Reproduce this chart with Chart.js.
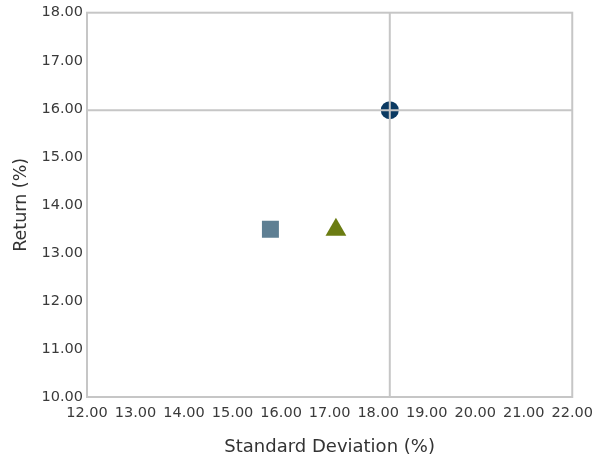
<!DOCTYPE html>
<html>
<head>
<meta charset="utf-8">
<script src="https://cdn.jsdelivr.net/npm/chart.js@4/dist/chart.umd.min.js"></script>
<style>
html,body{margin:0;padding:0;background:#fff;}
#wrap{width:601px;height:463px;position:relative;}
</style>
</head>
<body>
<div id="wrap"><canvas id="c" width="601" height="463"></canvas></div>
<script>
// Data
const seriesNames = ["Fund", "Index A", "Index B"];
const stdDev = [18.24, 15.78, 17.13];
const returns = [15.97, 13.49, 13.48];
const pointStyles = ["circle", "rect", "triangle"];
const pointColors = ["#0b3a62", "#5e7f93", "#6b7c12"];
const pointSizes = [9, 12, 12];
const xRange = [12, 22];
const yRange = [10, 18];
const crossIndex = 0;

const datasets = seriesNames.map((n, i) => ({
  label: n,
  data: [{x: stdDev[i], y: returns[i]}],
  pointStyle: pointStyles[i],
  backgroundColor: pointColors[i],
  borderColor: pointColors[i],
  borderWidth: 0,
  pointRadius: pointSizes[i],
  pointHoverRadius: pointSizes[i]
}));

const gridColor = "#c6c6c6";
const framePlugin = {
  id: "frame",
  afterDatasetsDraw(chart) {
    const {ctx, chartArea: a, scales} = chart;
    const px = scales.x.getPixelForValue(stdDev[crossIndex]);
    const py = scales.y.getPixelForValue(returns[crossIndex]);
    ctx.save();
    ctx.strokeStyle = gridColor;
    ctx.lineWidth = 2;
    ctx.beginPath();
    ctx.moveTo(px, a.top); ctx.lineTo(px, a.bottom);
    ctx.moveTo(a.left, py); ctx.lineTo(a.right, py);
    ctx.stroke();
    ctx.strokeRect(a.left, a.top, a.right - a.left, a.bottom - a.top);
    ctx.restore();
  }
};

new Chart(document.getElementById("c"), {
  type: "scatter",
  data: {datasets},
  plugins: [framePlugin],
  options: {
    responsive: false,
    animation: false,
    layout: {padding: {left: 0, right: 27, top: 11, bottom: 0}},
    plugins: {legend: {display: false}, tooltip: {enabled: false}},
    scales: {
      x: {
        min: xRange[0], max: xRange[1],
        afterFit(s) { s.height = 66; },
        grid: {display: false, drawTicks: false},
        border: {display: false},
        ticks: {stepSize: 1, padding: 8, maxRotation: 0, autoSkip: false,
          color: "#3a3a3a", font: {family: "DejaVu Sans", size: 14.5},
          callback: v => Number(v).toFixed(2)},
        title: {display: true, text: "Standard Deviation (%)", color: "#333",
          font: {family: "DejaVu Sans", size: 18}, padding: {top: 0, bottom: 5}}
      },
      y: {
        min: yRange[0], max: yRange[1],
        afterFit(s) { s.width = 87; },
        grid: {display: false, drawTicks: false},
        border: {display: false},
        ticks: {stepSize: 1, padding: 4, autoSkip: false,
          color: "#3a3a3a", font: {family: "DejaVu Sans", size: 14.5},
          callback: v => Number(v).toFixed(2)},
        title: {display: true, text: "Return (%)", color: "#333",
          font: {family: "DejaVu Sans", size: 17.5}, padding: {top: 11, bottom: 0}}
      }
    }
  }
});
</script>
</body>
</html>
